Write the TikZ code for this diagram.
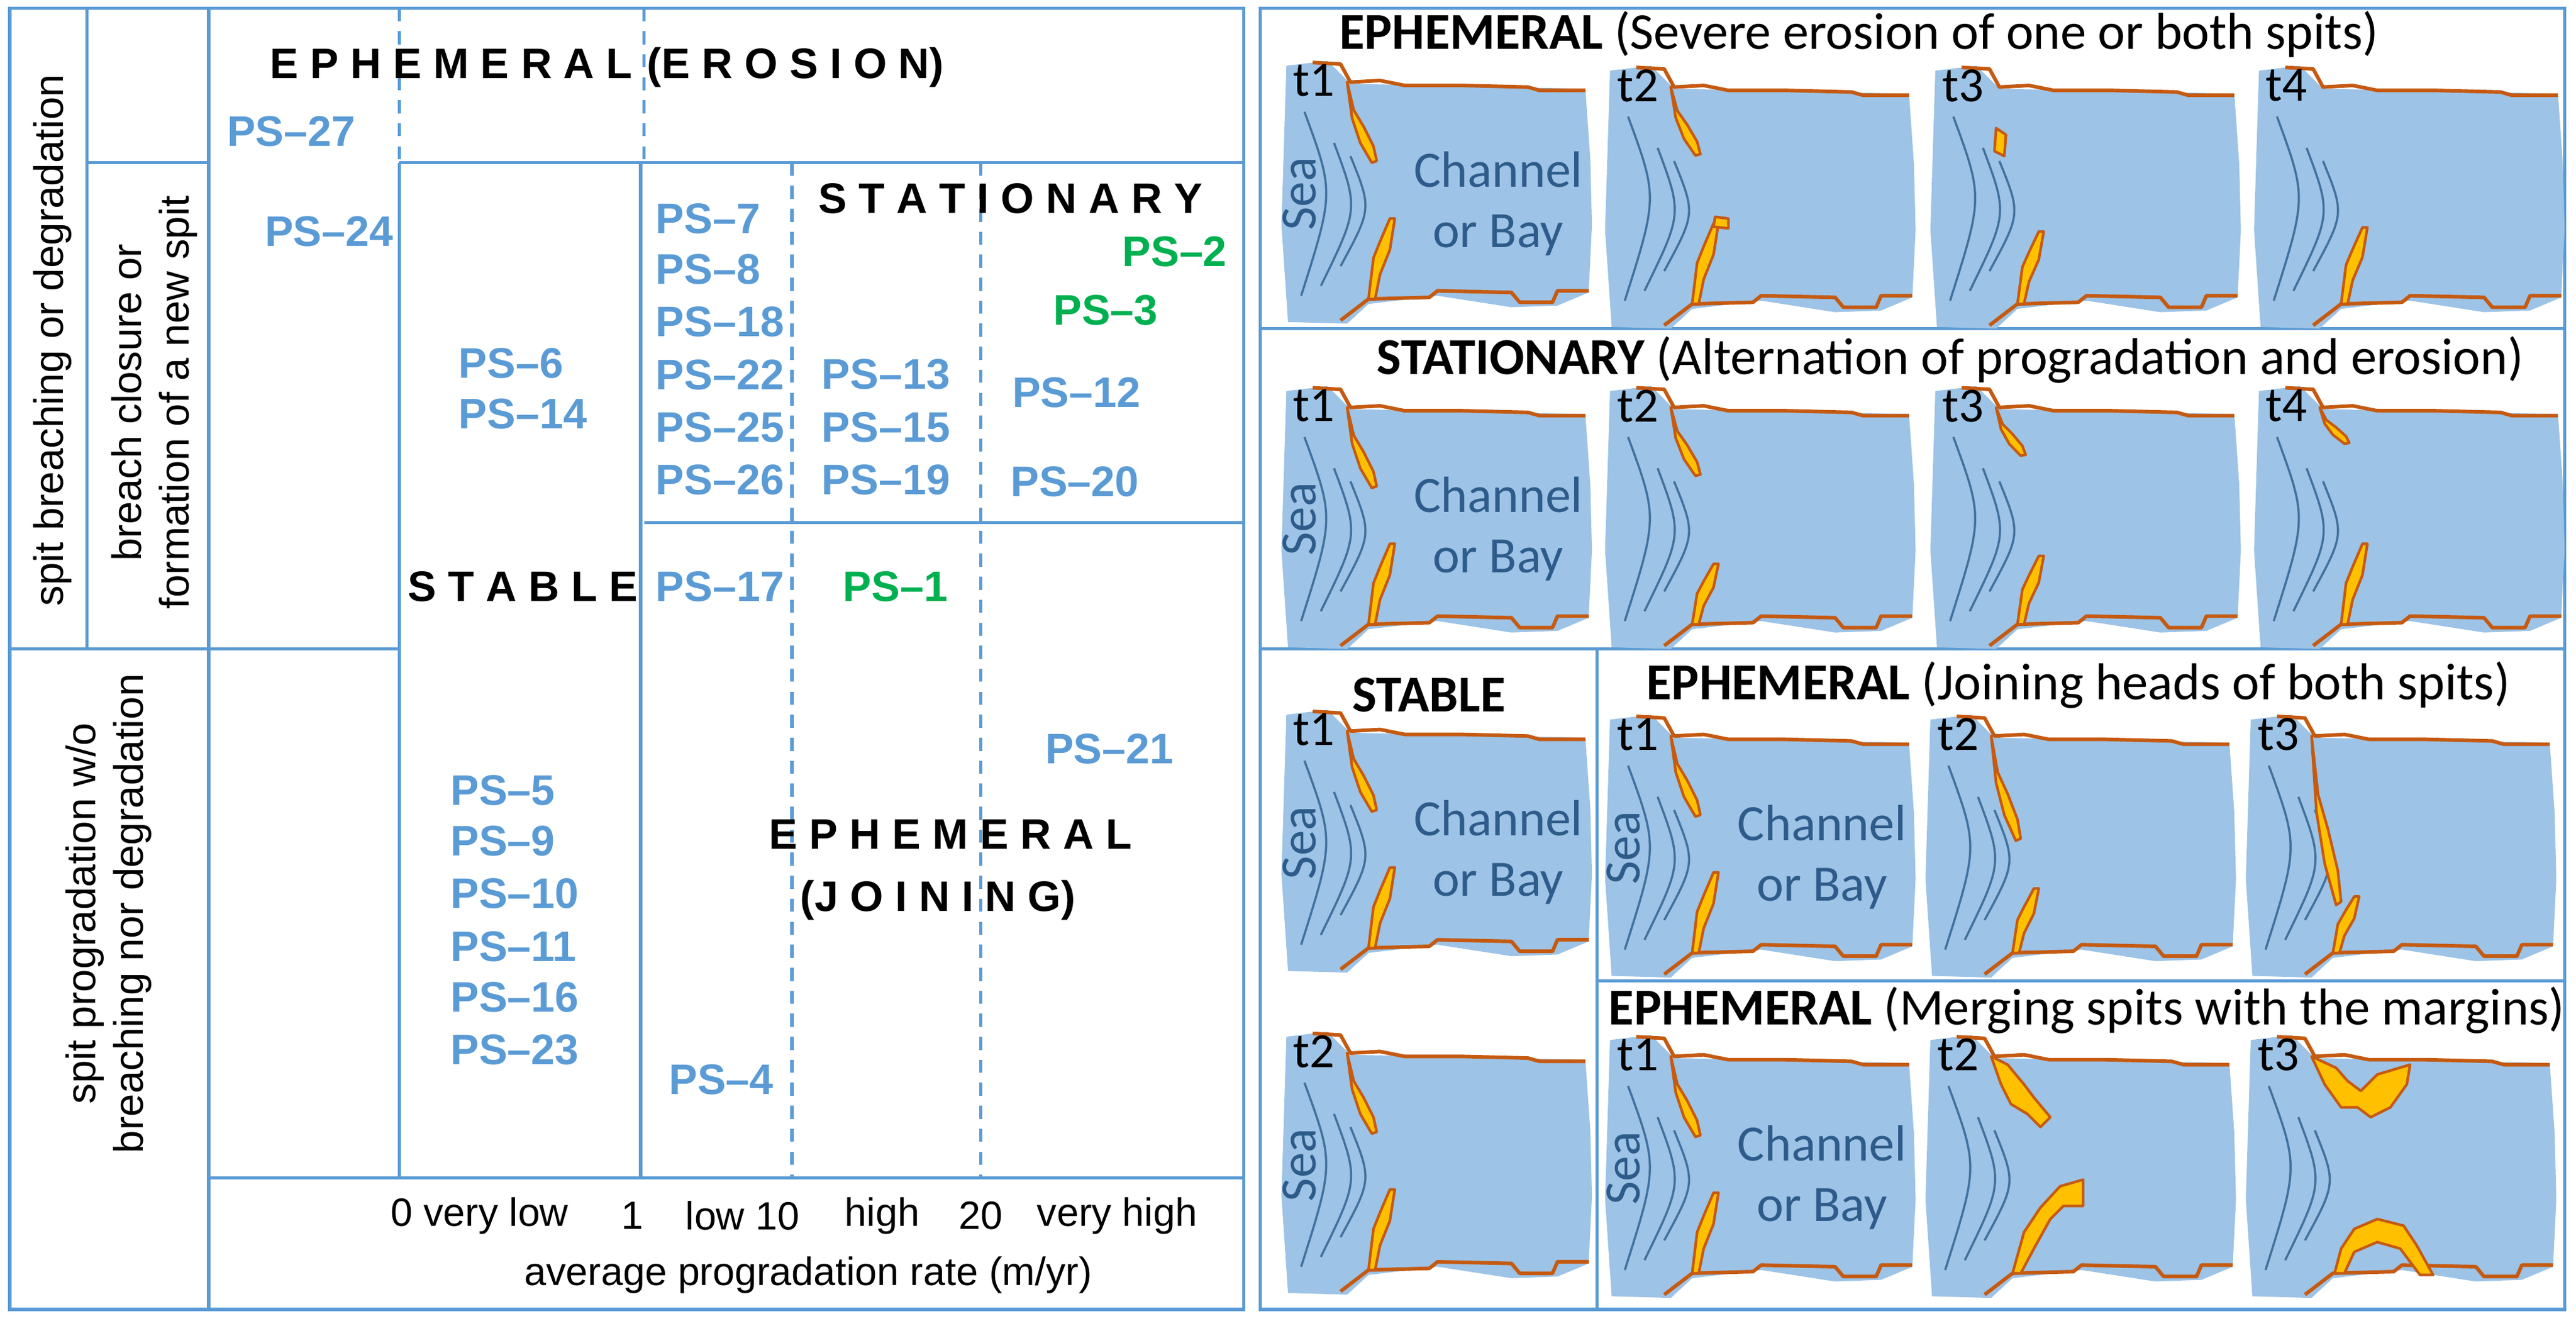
\documentclass[tikz,border=0pt]{standalone}
\usepackage{fontspec}
\setmainfont{Liberation Sans}
\newfontfamily\calfont{Carlito}
\definecolor{gridB}{HTML}{5B9BD5}
\definecolor{psB}{HTML}{5B9BD5}
\definecolor{psG}{HTML}{00B050}
\definecolor{seaF}{HTML}{9DC3E6}
\definecolor{shoreC}{HTML}{C55A11}
\definecolor{spitY}{HTML}{FFC000}
\definecolor{arcC}{HTML}{41719C}
\definecolor{txtB}{HTML}{2E5C8A}
\newcommand\gp{\hspace{7.2pt}}
\tikzset{
 grid/.style={gridB,line width=2pt},
 dgrid/.style={gridB,line width=2pt,dash pattern=on 8pt off 6pt},
 ps/.style={font=\fontsize{26}{28}\selectfont\bfseries,text=psB,inner sep=0pt},
 psg/.style={ps,text=psG},
 cat/.style={font=\fontsize{26}{28}\selectfont\bfseries,inner sep=0pt},
 ax/.style={font=\fontsize{24}{26}\selectfont,inner sep=0pt},
 side/.style={font=\fontsize{25}{27}\selectfont,inner sep=0pt,rotate=90,align=center},
 ttl/.style={font=\calfont\fontsize{31.5}{33}\selectfont,inner sep=0pt,anchor=west},
 shore/.style={shoreC,line width=2.2pt,line join=round},
 spit/.style={fill=spitY,draw=shoreC,line width=1.6pt,line join=round},
 seaarc/.style={arcC,line width=1.3pt},
 tl/.style={font=\calfont\fontsize{30}{32}\selectfont,inner sep=0pt},
 chan/.style={font=\calfont\fontsize{31}{33}\selectfont,text=txtB,inner sep=0pt},
}
\newcommand\skbase[4]{%
 \begin{scope}[shift={(#1,#2)}]
 \fill[seaF] (3,3) -- (28,0) -- (42,14) -- (185,17) -- (188,60) -- (189,100) -- (187,141) -- (168,149) -- (140,150) -- (95,143) -- (53,148) -- (40,160) -- (4,159) -- (0,100) -- cycle;
 \draw[shore] (19,1)--(36,2)--(42,13)--(60,12)--(75,15)--(110,15)--(150,16)--(157,18)--(185,18);
 \draw[shore] (36,158)--(53,145)--(90,144)--(95,140)--(140,141)--(145,147)--(165,147)--(168,140)--(187,140);
 \draw[seaarc] (14,31) .. controls (32,80) .. (12,143);
 \draw[seaarc] (32,50) .. controls (47,90) .. (24,137);
 \draw[seaarc] (42,58) .. controls (55,90) .. (36,125);
 \node[tl,anchor=north west] (#4t) at (7,2) {#3};
 \end{scope}}
\newcommand\seatxt[3]{\node[chan,rotate=90] (#3s) at (#1+11,#2+81) {Sea};}
\newcommand\chantxt[3]{\node[chan] (#3c) at (#1+132,#2+66) {Channel};\node[chan] (#3b) at (#1+132,#2+106) {or Bay};}
\newcommand\nsp[3]{\begin{scope}[shift={(#1+40,#2+13)},yscale=#3]
 \filldraw[spit] (0,0)--(4,17)--(10,27)--(16,39)--(18,48)--(15,49)--(8,37)--(3,22)--cycle;\end{scope}}
\newcommand\ssp[3]{\begin{scope}[shift={(#1+53,#2+145)},yscale=#3]
 \filldraw[spit] (0,0)--(3,-25)--(7,-35)--(13,-49)--(16,-49)--(13,-30)--(7,-15)--(4,0)--cycle;\end{scope}}
\begin{document}
\begin{tikzpicture}[x=1pt,y=-1pt]
\useasboundingbox (0,0) rectangle (1568,804);
% ---------- left panel grid
\draw[grid] (6,5) rectangle (757,797);
\draw[grid] (53,5) -- (53,395);
\draw[grid] (127,5) -- (127,797);
\draw[grid] (53,99) -- (127,99);
\draw[grid] (6,395) -- (243,395);
\draw[grid] (243,99) -- (757,99);
\draw[grid] (392,318) -- (757,318);
\draw[grid] (127,717) -- (757,717);
\draw[dgrid] (243,5) -- (243,99);
\draw[dgrid] (392,5) -- (392,99);
\draw[grid] (243,99) -- (243,717);
\draw[grid] (390,99) -- (390,717);
\draw[dgrid] (482,99) -- (482,717);
\draw[dgrid] (597,99) -- (597,717);
% side labels
\node[side] (s1) at (32,207) {spit breaching or degradation};
\node[side] (s2) at (94,245) {breach closure or\\[2pt]formation of a new spit};
\node[side] (s3) at (66,556) {spit progradation w/o\\[2pt]breaching nor degradation};
% category labels
\node[cat,anchor=west] (c1) at (164,41) {E\gp P\gp H\gp E\gp M\gp E\gp R\gp A\gp L\hspace{9pt}(E\gp R\gp O\gp S\gp I\gp O\gp N)};
\node[cat,anchor=west] (c2) at (498,121) {S\gp T\gp A\gp T\gp I\gp O\gp N\gp A\gp R\gp Y};
\node[cat,anchor=west] (c3) at (248,357) {S\gp T\gp A\gp B\gp L\gp E};
\node[cat,anchor=west] (c4) at (468,508) {E\gp P\gp H\gp E\gp M\gp E\gp R\gp A\gp L};
\node[cat,anchor=west] (c5) at (487,548) {(J\gp O\gp I\gp N\gp I\gp N\gp G)};
% PS labels
\node[ps,anchor=west] (p27) at (138,80) {PS–27};
\node[ps,anchor=west] (p24) at (161,141) {PS–24};
\node[ps,anchor=west] (p6) at (279,221) {PS–6};
\node[ps,anchor=west] (p14) at (279,252) {PS–14};
\node[ps,anchor=west] (p7) at (399,133) {PS–7};
\node[ps,anchor=west] (p8) at (399,164) {PS–8};
\node[ps,anchor=west] (p18) at (399,196) {PS–18};
\node[ps,anchor=west] (p22) at (399,228) {PS–22};
\node[ps,anchor=west] (p25) at (399,260) {PS–25};
\node[ps,anchor=west] (p26) at (399,292) {PS–26};
\node[ps,anchor=west] (p13) at (500,228) {PS–13};
\node[ps,anchor=west] (p15) at (500,260) {PS–15};
\node[ps,anchor=west] (p19) at (500,292) {PS–19};
\node[psg,anchor=west] (p2) at (683,153) {PS–2};
\node[psg,anchor=west] (p3) at (641,189) {PS–3};
\node[ps,anchor=west] (p12) at (616,239) {PS–12};
\node[ps,anchor=west] (p20) at (615,293) {PS–20};
\node[ps,anchor=west] (p17) at (399,357) {PS–17};
\node[psg,anchor=west] (p1) at (513,357) {PS–1};
\node[ps,anchor=west] (p21) at (636,456) {PS–21};
\node[ps,anchor=west] (p5) at (274,481) {PS–5};
\node[ps,anchor=west] (p9) at (274,512) {PS–9};
\node[ps,anchor=west] (p10) at (274,544) {PS–10};
\node[ps,anchor=west] (p11) at (274,576) {PS–11};
\node[ps,anchor=west] (p16) at (274,607) {PS–16};
\node[ps,anchor=west] (p23) at (274,639) {PS–23};
\node[ps,anchor=west] (p4) at (407,657) {PS–4};
% axis
\node[ax] (a0) at (292,740) {0 very low};
\node[ax] (a1) at (385,740) {1};
\node[ax] (a2) at (452,740) {low 10};
\node[ax] (a3) at (537,740) {high};
\node[ax] (a4) at (597,740) {20};
\node[ax] (a5) at (680,740) {very high};
\node[ax] (a6) at (492,776) {average progradation rate (m/yr)};
% ---------- right panel frame
\draw[grid] (767,5) rectangle (1561,797);
\draw[grid] (767,200) -- (1561,200);
\draw[grid] (767,395) -- (1561,395);
\draw[grid] (972,395) -- (972,797);
\draw[grid] (972,597) -- (1561,597);
% titles
\node[ttl] (T1) at (815,21) {\bfseries EPHEMERAL\ \mdseries(Severe erosion of one or both spits)};
\node[ttl] (T2) at (838,219) {\bfseries STATIONARY\ \mdseries(Alternation of progradation and erosion)};
\node[ttl] (T3) at (823,423) {\bfseries STABLE};
\node[ttl] (T4) at (1002,417) {\bfseries EPHEMERAL\ \mdseries(Joining heads of both spits)};
\node[ttl] (T5) at (979,615) {\bfseries EPHEMERAL\ \mdseries(Merging spits with the margins)};
% row 1: severe erosion
\skbase{780}{37}{t1}{r1a}\nsp{780}{37}{1}\ssp{780}{37}{1}\seatxt{780}{37}{r1a}\chantxt{780}{37}{r1a}
\skbase{977}{40}{t2}{r1b}\nsp{977}{40}{0.85}\ssp{977}{40}{1}
\filldraw[spit] (977+66,40+98) -- (977+67,40+92) -- (977+75,40+93) -- (977+75,40+99) -- cycle;
\skbase{1175}{40}{t3}{r1c}\ssp{1175}{40}{0.9}
\filldraw[spit] (1175+40,40+38) -- (1175+46,40+42) -- (1175+45,40+55) -- (1175+39,40+52) -- cycle;
\skbase{1372}{40}{t4}{r1d}\ssp{1372}{40}{0.95}
% row 2: stationary
\skbase{780}{235}{t1}{r2a}\nsp{780}{235}{1}\ssp{780}{235}{1}\seatxt{780}{235}{r2a}\chantxt{780}{235}{r2a}
\skbase{977}{235}{t2}{r2b}\nsp{977}{235}{0.85}\ssp{977}{235}{0.75}
\skbase{1175}{235}{t3}{r2c}\nsp{1175}{235}{0.6}\ssp{1175}{235}{0.85}
\skbase{1372}{235}{t4}{r2d}\nsp{1372}{235}{0.45}\ssp{1372}{235}{1}
% row 3: stable
\skbase{780}{432}{t1}{r3a}\nsp{780}{432}{1}\ssp{780}{432}{1}\seatxt{780}{432}{r3a}\chantxt{780}{432}{r3a}
\skbase{780}{628}{t2}{r3b}\nsp{780}{628}{1}\ssp{780}{628}{1}\seatxt{780}{628}{r3b}
% joining
\skbase{977}{435}{t1}{r4a}\nsp{977}{435}{1}\ssp{977}{435}{1}\seatxt{977}{435}{r4a}\chantxt{977}{435}{r4a}
\skbase{1172}{435}{t2}{r4b}\nsp{1172}{435}{1.3}\ssp{1172}{435}{0.8}
\skbase{1367}{435}{t3}{r4c}\nsp{1367}{435}{2.1}\ssp{1367}{435}{0.7}
% merging
\skbase{977}{630}{t1}{r5a}\nsp{977}{630}{1}\ssp{977}{630}{1}\seatxt{977}{630}{r5a}\chantxt{977}{630}{r5a}
\skbase{1172}{630}{t2}{r5b}
\begin{scope}[shift={(1172,630)}]
\filldraw[spit] (40,13) -- (50,18) -- (60,30) -- (66,38) -- (76,50) -- (70,56) -- (62,48) -- (52,42) -- (46,30) -- cycle;
\filldraw[spit] (53,145) -- (60,120) -- (70,105) -- (82,92) -- (96,88) -- (96,104) -- (84,104) -- (76,112) -- (66,130) -- (58,145) -- cycle;
\end{scope}
\skbase{1367}{630}{t3}{r5c}
\begin{scope}[shift={(1367,630)}]
\filldraw[spit] (40,13) -- (55,20) -- (62,28) -- (70,34) -- (80,24) -- (100,18) -- (98,30) -- (88,44) -- (76,50) -- (68,44) -- (58,44) -- (48,30) -- cycle;
\filldraw[spit] (54,145) -- (58,130) -- (66,118) -- (80,112) -- (96,116) -- (104,128) -- (114,146) -- (106,146) -- (94,130) -- (80,126) -- (66,132) -- (60,145) -- cycle;
\end{scope}
\end{tikzpicture}
\end{document}
